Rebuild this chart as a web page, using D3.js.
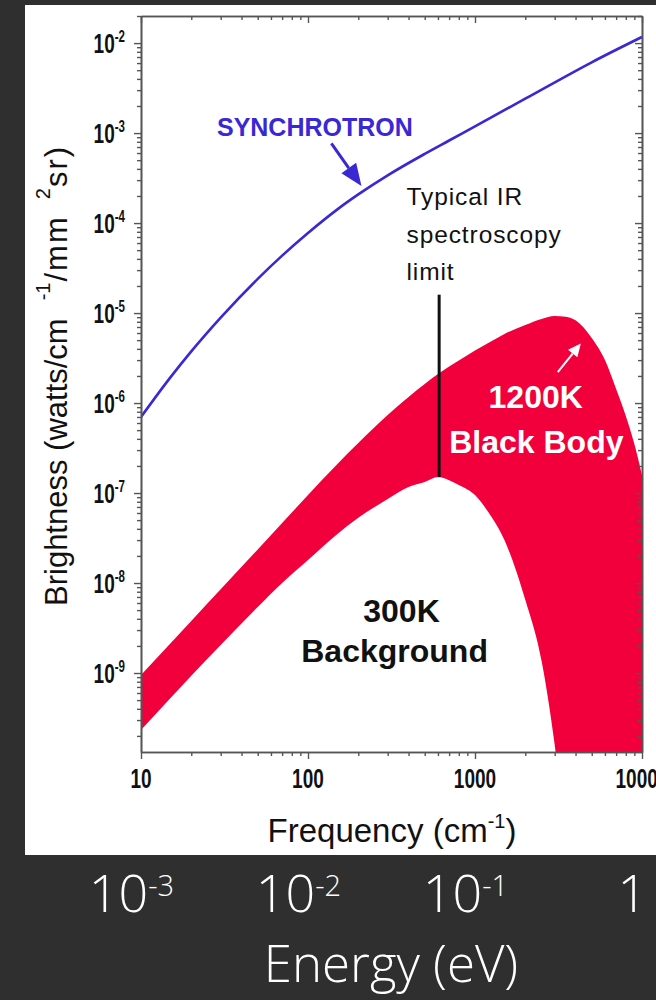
<!DOCTYPE html>
<html>
<head>
<meta charset="utf-8">
<script src="https://cdn.jsdelivr.net/npm/d3@7"></script>
<style>
  html, body { margin: 0; padding: 0; background: #2f2f2f; }
  svg { display: block; }
</style>
</head>
<body>
<svg id="chart" width="656" height="1000"></svg>
<script>
// Shared wavenumber grid for the two black-body curves (cm^-1)
const frequency = [10, 20, 30, 50, 70, 100, 150, 200, 300, 400, 500, 600, 700, 800,
                   1000, 1200, 1500, 2000, 2500, 3000, 3500, 4000, 5000, 6000, 7000, 8000, 9000, 10000];
// 1200 K black body brightness (upper edge of the band)
const blackBody1200 = [9.5e-10, 3.78e-9, 8.5e-9, 2.36e-8, 4.64e-8, 9.5e-8, 2.1e-7, 3.59e-7, 7.36e-7, 1.17e-6,
                       1.63e-6, 2.1e-6, 2.54e-6, 2.97e-6, 3.83e-6, 4.64e-6, 5.85e-6, 7.36e-6, 8.58e-6, 9.27e-6,
                       9.1e-6, 8.3e-6, 5.27e-6, 3.0e-6, 1.43e-6, 7.17e-7, 3.5e-7, 1.58e-7];
// 300 K background brightness (lower edge of the band); null = below the plotted range
const background300 = [2.33e-10, 9.3e-10, 2.05e-9, 5.4e-9, 1.0e-8, 1.8e-8, 3.5e-8, 5.3e-8, 8.6e-8, 1.17e-7,
                       1.33e-7, 1.51e-7, 1.39e-7, 1.23e-7, 9.5e-8, 6.15e-8, 3.0e-8, 6.5e-9, 1.39e-9, 1.6e-10,
                       null, null, null, null, null, null, null, null];

// Synchrotron source brightness
const synchFrequency = [10, 15, 20, 30, 50, 70, 100, 150, 200, 300, 500, 700, 1000, 2000, 5000, 10000];
const synchrotron = [7.0e-7, 1.93e-6, 3.75e-6, 8.9e-6, 2.4e-5, 4.35e-5, 7.76e-5, 1.42e-4, 2.08e-4, 3.39e-4,
                     5.87e-4, 8.27e-4, 1.19e-3, 2.41e-3, 6.12e-3, 1.17e-2];

// Axis ticks and labels
const freqTicks = [10, 100, 1000, 10000];
const freqTickLabels = ["10", "100", "1000", "10000"];
const brightTicks = [1e-2, 1e-3, 1e-4, 1e-5, 1e-6, 1e-7, 1e-8, 1e-9];
const brightExponents = ["-2", "-3", "-4", "-5", "-6", "-7", "-8", "-9"];
const energyTicks = [1e-3, 1e-2, 1e-1, 1];
const energyExponents = ["-3", "-2", "-1", ""];
const CM_PER_EV = 8065.5;

// IR spectroscopy limit marker
const irLimitFreq = 610;
const irLimitTop = 1.6e-5;
const irLimitBottom = 1.5e-7;

const W = 656, H = 1000;
const plot = { left: 141, right: 642, top: 16, bottom: 752 };
const axisColor = "#555";
const sans = "'Liberation Sans', Arial, Helvetica, sans-serif";
const synchColor = "#3a28d4";

const svg = d3.select("#chart");
svg.append("rect").attr("width", W).attr("height", H).attr("fill", "#2f2f2f");
svg.append("rect").attr("x", 25).attr("y", 5).attr("width", W - 25).attr("height", 850).attr("fill", "#fff");

const x = d3.scaleLog().domain([10, 10000]).range([plot.left, plot.right]);
const y = d3.scaleLog().domain([1.325e-10, 2.0e-2]).range([plot.bottom, plot.top]);

svg.append("clipPath").attr("id", "plotClip")
  .append("rect")
  .attr("x", plot.left).attr("y", plot.top)
  .attr("width", plot.right - plot.left).attr("height", plot.bottom - plot.top);

const body = svg.append("g").attr("clip-path", "url(#plotClip)");

// Red band between the 300 K background and the 1200 K black body
const floor = y.domain()[0] / 10;
const band = frequency.map((f, i) => ({ f, hi: blackBody1200[i], lo: background300[i] }));
const area = d3.area()
  .x(d => x(d.f))
  .y1(d => y(d.hi))
  .y0(d => y(d.lo == null ? floor : d.lo))
  .curve(d3.curveMonotoneX);
body.append("path").datum(band).attr("d", area).attr("fill", "#f2003c");

// Synchrotron curve
const synch = synchFrequency.map((f, i) => ({ f, v: synchrotron[i] }));
body.append("path").datum(synch)
  .attr("d", d3.line().x(d => x(d.f)).y(d => y(d.v)).curve(d3.curveMonotoneX))
  .attr("fill", "none").attr("stroke", synchColor).attr("stroke-width", 2.6);

// IR limit marker
svg.append("line")
  .attr("x1", x(irLimitFreq)).attr("x2", x(irLimitFreq))
  .attr("y1", y(irLimitTop)).attr("y2", y(irLimitBottom))
  .attr("stroke", "#111").attr("stroke-width", 3);

// ---- axes ----
const isDecade = v => Math.abs(Math.log10(v) - Math.round(Math.log10(v))) < 1e-9;
const majorX = x.ticks().filter(isDecade);
const minorX = x.ticks().filter(v => !isDecade(v));
const majorY = y.ticks().filter(isDecade);
const minorY = y.ticks().filter(v => !isDecade(v));

function addAxis(gen, tx, ty, ticks, size) {
  const g = svg.append("g").attr("transform", `translate(${tx},${ty})`)
    .call(gen.tickValues(ticks).tickSize(size).tickSizeOuter(0).tickFormat(""));
  g.selectAll("path.domain").attr("stroke", axisColor).attr("stroke-width", 1.6);
  g.selectAll(".tick line").attr("stroke", axisColor).attr("stroke-width", 1.4);
  g.selectAll("text").remove();
  return g;
}
// bottom (outward), top (inward)
addAxis(d3.axisBottom(x), 0, plot.bottom, minorX, 4);
addAxis(d3.axisBottom(x), 0, plot.bottom, majorX, 7);
addAxis(d3.axisTop(x), 0, plot.top, minorX, -4);
addAxis(d3.axisTop(x), 0, plot.top, majorX, -7);
// left (outward), right (inward)
addAxis(d3.axisLeft(y), plot.left, 0, minorY, 4);
addAxis(d3.axisLeft(y), plot.left, 0, majorY, 7);
addAxis(d3.axisRight(y), plot.right, 0, minorY, -4);
addAxis(d3.axisRight(y), plot.right, 0, majorY, -7);

// condensed bold tick labels
const squeeze = 0.68;
freqTicks.forEach((v, i) => {
  svg.append("g").attr("transform", `translate(${x(v)},${plot.bottom + 36}) scale(${squeeze},1)`)
    .append("text")
    .attr("text-anchor", "middle")
    .attr("font-family", sans).attr("font-weight", "bold").attr("font-size", 28)
    .attr("fill", "#111")
    .text(freqTickLabels[i]);
});
brightTicks.forEach((v, i) => {
  const t = svg.append("g").attr("transform", `translate(${plot.left - 16},${y(v) + 10}) scale(${squeeze},1)`)
    .append("text")
    .attr("text-anchor", "end")
    .attr("font-family", sans).attr("font-weight", "bold").attr("font-size", 28)
    .attr("fill", "#111");
  t.append("tspan").text("10");
  t.append("tspan").attr("font-size", 17).attr("dy", -11).text(brightExponents[i]);
});

// axis titles
const yTitle = svg.append("text")
  .attr("transform", "translate(67,606) rotate(-90)")
  .attr("font-family", sans).attr("font-size", 31).attr("fill", "#111");
yTitle.append("tspan").text("Brightness (watts/cm");
yTitle.append("tspan").attr("font-size", 20).attr("dx", 18).attr("dy", -17).text("-1");
yTitle.append("tspan").attr("dx", 1).attr("dy", 17).attr("letter-spacing", 2).text("/mm");
yTitle.append("tspan").attr("font-size", 20).attr("dx", 16).attr("dy", -17).text("2");
yTitle.append("tspan").attr("dx", 1).attr("dy", 17).attr("letter-spacing", 2).text("sr)");

const xTitle = svg.append("text")
  .attr("x", 392).attr("y", 842).attr("text-anchor", "middle")
  .attr("font-family", sans).attr("font-size", 33).attr("fill", "#111");
xTitle.append("tspan").text("Frequency (cm");
xTitle.append("tspan").attr("font-size", 20).attr("dy", -14).text("-1");
xTitle.append("tspan").attr("dy", 14).text(")");

// ---- annotations ----
function arrow(from, to, color, width, headLen, headHalf) {
  const x0 = x(from[0]), y0 = y(from[1]), x1 = x(to[0]), y1 = y(to[1]);
  const ang = Math.atan2(y1 - y0, x1 - x0);
  const bx = x1 - headLen * Math.cos(ang), by = y1 - headLen * Math.sin(ang);
  svg.append("line").attr("x1", x0).attr("y1", y0).attr("x2", bx).attr("y2", by)
    .attr("stroke", color).attr("stroke-width", width);
  const px = -Math.sin(ang) * headHalf, py = Math.cos(ang) * headHalf;
  svg.append("path")
    .attr("d", `M${x1},${y1}L${bx + px},${by + py}L${bx - px},${by - py}Z`)
    .attr("fill", color);
}

svg.append("text")
  .attr("x", x(28.5)).attr("y", y(9.3e-4))
  .attr("font-family", sans).attr("font-weight", "bold").attr("font-size", 25)
  .attr("fill", synchColor)
  .text("SYNCHROTRON");
arrow([138, 7.7e-4], [209, 2.58e-4], synchColor, 3, 22, 9);

const irText = svg.append("text")
  .attr("font-family", sans).attr("font-size", 24.5).attr("fill", "#111")
  .attr("letter-spacing", 0.9);
["Typical IR", "spectroscopy", "limit"].forEach((s, i) => {
  irText.append("tspan").attr("x", x(389)).attr("y", y(1.58e-4) + i * 37.5).text(s);
});

svg.append("text")
  .attr("x", x(2310)).attr("y", y(8.8e-7)).attr("text-anchor", "middle")
  .attr("font-family", sans).attr("font-weight", "bold").attr("font-size", 32)
  .attr("fill", "#fff").text("1200K");
svg.append("text")
  .attr("x", x(2330)).attr("y", y(2.8e-7)).attr("text-anchor", "middle")
  .attr("font-family", sans).attr("font-weight", "bold").attr("font-size", 32)
  .attr("fill", "#fff").text("Black Body");
arrow([3130, 2.2e-6], [4300, 4.6e-6], "#fff", 2, 13, 6);

svg.append("text")
  .attr("x", x(363)).attr("y", y(3.7e-9)).attr("text-anchor", "middle")
  .attr("font-family", sans).attr("font-weight", "bold").attr("font-size", 32)
  .attr("fill", "#111").text("300K");
svg.append("text")
  .attr("x", x(330)).attr("y", y(1.32e-9)).attr("text-anchor", "middle")
  .attr("font-family", sans).attr("font-weight", "bold").attr("font-size", 32)
  .attr("fill", "#111").text("Background");

// ---- energy scale below the panel ----
const light = "'Open Sans', 'Noto Sans', sans-serif";
energyTicks.forEach((e, i) => {
  const t = svg.append("text")
    .attr("x", x(e * CM_PER_EV) + 6).attr("y", 912)
    .attr("text-anchor", "middle")
    .attr("font-family", light).attr("font-weight", 300).attr("font-size", 52)
    .attr("fill", "#fff");
  if (energyExponents[i]) {
    t.append("tspan").text("10");
    t.append("tspan").attr("font-size", 29).attr("dy", -16).text(energyExponents[i]);
  } else {
    t.text("1");
  }
});
svg.append("text")
  .attr("x", 391).attr("y", 982).attr("text-anchor", "middle")
  .attr("font-family", light).attr("font-weight", 300).attr("font-size", 51)
  .attr("fill", "#fff").text("Energy (eV)");
</script>
</body>
</html>
